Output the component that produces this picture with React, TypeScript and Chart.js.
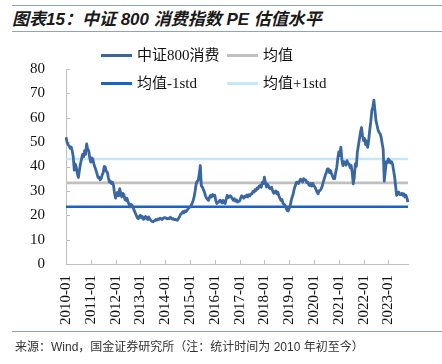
import React, { useEffect, useRef } from "react";
import { Chart, registerables } from "chart.js";

Chart.register(...registerables);

// ---- Data ----
const YEARS = [2010, 2011, 2012, 2013, 2014, 2015, 2016, 2017, 2018, 2019, 2020, 2021, 2022, 2023];
const MONTHS = ["01", "02", "03", "04", "05", "06", "07", "08", "09", "10", "11", "12"];
const DAYS = ["01", "16"]; // semi-monthly observations
const N_POINTS = 332; // 2010-01-01 .. 2023-10-16

const DATES: string[] = YEARS.flatMap((y) => MONTHS.flatMap((m) => DAYS.map((d) => `${y}-${m}-${d}`))).slice(0, N_POINTS);

const PE_2010 = [52, 50, 49, 48.5, 47.5, 48, 46.5, 44, 38.5, 41, 39.5, 37, 35.5, 38.5, 41, 43, 45, 44, 46.5, 45, 49.3, 47, 46.5, 43.5];
const PE_2011 = [41.8, 43.5, 43, 41, 39.7, 38.5, 37, 35.5, 35.6, 34.5, 35, 36.5, 37.5, 40, 39.7, 38, 37.7, 35.5, 33.6, 34, 33, 33.5, 32.2, 29];
const PE_2012 = [27, 28.5, 29.5, 28, 30.9, 29, 27.5, 29, 28.5, 26.5, 26.1, 27, 25.5, 24.5, 23.4, 24.5, 24, 23, 22, 21, 20, 19, 18.6, 19.5];
const PE_2013 = [20, 19, 19.5, 18.3, 18.6, 19.5, 19, 18.2, 19.3, 18.5, 18, 17.5, 17.3, 17.6, 17.8, 18.3, 18, 18.5, 18.3, 18.8, 18.6, 18.2, 18.8, 19];
const PE_2014 = [19, 18.7, 18.5, 18.8, 18.6, 19.2, 18.8, 18.4, 18.6, 18.2, 18.3, 18, 18, 18.8, 19.5, 20.5, 20.7, 21.5, 21, 21.8, 21.4, 22, 22.5, 23];
const PE_2015 = [23.4, 24, 24.8, 26, 27.5, 30, 32.9, 34, 34.3, 37, 40.4, 32, 31.6, 30.5, 29.5, 28, 27, 26.5, 26.1, 27.5, 28.2, 27.5, 28.5, 28];
const PE_2016 = [28.2, 26, 24.8, 25.5, 25.4, 26.2, 25.8, 25, 26.1, 25.2, 24.8, 26.5, 28.2, 27.2, 27.5, 28, 27.5, 26.8, 26.1, 26.8, 25.8, 26.3, 25.4, 25.8];
const PE_2017 = [25.8, 27, 28, 27.5, 27, 27.8, 27.5, 28.3, 27.5, 28.4, 28, 28.8, 28.8, 29.8, 29.5, 30.5, 30.2, 31.2, 31, 32, 32.2, 31.5, 33.5, 33];
const PE_2018 = [35.6, 33.5, 31.6, 32.8, 32, 31, 30.9, 31.5, 30, 29, 29.5, 30, 28.8, 29.5, 28, 27, 26.1, 26.5, 25, 24.5, 24.1, 23, 22, 21.8];
const PE_2019 = [22.7, 24, 26.1, 27.5, 29, 31, 32.2, 33.5, 33.6, 33, 34, 34.8, 34.3, 33.6, 35, 34.5, 34.5, 33.4, 33.6, 32.5, 32.2, 33, 32, 33];
const PE_2020 = [32, 31.6, 30.5, 29.5, 28.8, 30, 30.2, 30.9, 32, 33.6, 35, 36.5, 37.5, 39, 39, 37.5, 38.4, 37, 36, 35, 35, 37.5, 39.5, 43.1];
const PE_2021 = [46, 44.5, 47.9, 43, 40.4, 42, 41.5, 40.5, 42.4, 41.2, 41, 39.5, 40.4, 37.5, 32.9, 35.5, 41.1, 40, 46, 48.5, 51.3, 54, 56, 52.5];
const PE_2022 = [50.6, 51.5, 49, 50.5, 47.9, 51, 55, 58.5, 62.9, 64.5, 67.2, 63, 58.8, 57, 55, 54, 53.5, 52, 49.4, 47, 34, 38, 42, 41.5];
const PE_2023 = [43.1, 42.5, 41.5, 42, 41.1, 38.5, 36, 32, 28.2, 29, 29.5, 28.5, 28.5, 29, 28.2, 28.8, 27.5, 28.2, 27, 25.4];

const PE_VALUES = [
  ...PE_2010, ...PE_2011, ...PE_2012, ...PE_2013, ...PE_2014, ...PE_2015, ...PE_2016,
  ...PE_2017, ...PE_2018, ...PE_2019, ...PE_2020, ...PE_2021, ...PE_2022, ...PE_2023,
];

const MEAN = 33.3;
const MEAN_MINUS_STD = 23.5;
const MEAN_PLUS_STD = 43.1;

const SERIES_NAMES = ["中证800消费", "均值", "均值-1std", "均值+1std"];
const Y_TICKS = [0, 10, 20, 30, 40, 50, 60, 70, 80];

// ---- Styles ----
const C_SERIES = "#3a67a0";
const C_MEAN = "#c0c0c0";
const C_LOW = "#1565c8";
const C_HIGH = "#c4e8fb";
const C_AXIS = "#bfbfbf";
const SERIF = "'Times New Roman', 'Liberation Serif', 'Noto Sans CJK SC', serif";

const isYearStart = (d: string | undefined) => !!d && d.endsWith("-01-01");

const innerTicks = {
  id: "innerTicks",
  beforeDatasetsDraw(chart: any) {
    const { ctx, scales, chartArea } = chart;
    const x = scales.x;
    const y = scales.y;
    ctx.save();
    ctx.strokeStyle = C_AXIS;
    ctx.lineWidth = 1;
    ctx.beginPath();
    x.ticks.forEach((t: any, i: number) => {
      if (isYearStart(DATES[t.value])) {
        const px = Math.round(x.getPixelForTick(i)) + 0.5;
        ctx.moveTo(px, chartArea.bottom);
        ctx.lineTo(px, chartArea.bottom - 4);
      }
    });
    y.ticks.forEach((_t: any, i: number) => {
      const py = Math.round(y.getPixelForTick(i)) + 0.5;
      ctx.moveTo(chartArea.left, py);
      ctx.lineTo(chartArea.left + 4, py);
    });
    ctx.stroke();
    ctx.restore();
  },
};

function LegendItem({ x, y, color, text }: { x: number; y: number; color: string; text: string }) {
  return (
    <>
      <div style={{ position: "absolute", left: x, top: y - 1.5, width: 31, height: 3, background: color }} />
      <div
        style={{
          position: "absolute",
          left: x + 36,
          top: y - 11,
          height: 22,
          lineHeight: "22px",
          fontSize: 15,
          fontFamily: SERIF,
          color: "#111",
          whiteSpace: "nowrap",
        }}
      >
        {text}
      </div>
    </>
  );
}

export default function App() {
  const ref = useRef<HTMLCanvasElement | null>(null);

  useEffect(() => {
    if (!ref.current) return;
    const chart = new Chart(ref.current, {
      type: "line",
      data: {
        labels: DATES,
        datasets: [
          {
            label: SERIES_NAMES[0],
            data: PE_VALUES,
            borderColor: C_SERIES,
            borderWidth: 2.8,
            pointRadius: 0,
            tension: 0,
            borderJoinStyle: "round",
          },
          {
            label: SERIES_NAMES[1],
            data: DATES.map(() => MEAN),
            borderColor: C_MEAN,
            borderWidth: 2.6,
            pointRadius: 0,
          },
          {
            label: SERIES_NAMES[2],
            data: DATES.map(() => MEAN_MINUS_STD),
            borderColor: C_LOW,
            borderWidth: 2.6,
            pointRadius: 0,
          },
          {
            label: SERIES_NAMES[3],
            data: DATES.map(() => MEAN_PLUS_STD),
            borderColor: C_HIGH,
            borderWidth: 2.6,
            pointRadius: 0,
          },
        ],
      },
      options: {
        responsive: false,
        animation: false,
        devicePixelRatio: 1,
        layout: { padding: { left: 0, top: 69, right: 34, bottom: 0 } },
        plugins: {
          legend: { display: false },
          tooltip: { enabled: false },
          title: { display: false },
        },
        scales: {
          x: {
            type: "category",
            offset: false,
            border: { display: true, color: C_AXIS, width: 1 },
            grid: { display: true, drawOnChartArea: false, drawTicks: false },
            ticks: {
              autoSkip: false,
              maxRotation: 90,
              minRotation: 90,
              padding: 11,
              color: "#111",
              font: { family: SERIF, size: 15 },
              callback: (_v: any, i: number) => (isYearStart(DATES[i]) ? DATES[i].slice(0, 7) : null),
            },
            afterFit: (s: any) => {
              s.height = 100;
            },
          },
          y: {
            min: Y_TICKS[0],
            max: Y_TICKS[Y_TICKS.length - 1],
            border: { display: true, color: C_AXIS, width: 1 },
            grid: { display: true, drawOnChartArea: false, drawTicks: false },
            ticks: {
              stepSize: 10,
              padding: 21,
              color: "#111",
              font: { family: SERIF, size: 15 },
            },
            afterFit: (s: any) => {
              s.width = 66;
            },
          },
        },
      },
      plugins: [innerTicks],
    });
    return () => chart.destroy();
  }, []);

  return (
    <div style={{ position: "absolute", left: 0, top: 0, width: 442, height: 364, background: "#fff", overflow: "hidden" }}>
      <div style={{ position: "absolute", left: 12, right: 0, top: 5, height: 1, background: "#8ea4bb" }} />
      <div
        style={{
          position: "absolute",
          left: 12,
          top: 8,
          height: 23,
          lineHeight: "23px",
          fontSize: 17,
          fontWeight: "bold",
          fontStyle: "italic",
          fontFamily: "'Liberation Sans', Arial, 'Noto Sans CJK SC', sans-serif",
          color: "#1a1a1a",
          whiteSpace: "nowrap",
        }}
      >
        图表15：中证 800 消费指数 PE 估值水平
      </div>
      <div style={{ position: "absolute", left: 12, right: 0, top: 31, height: 1, background: "#8ea4bb" }} />
      <canvas ref={ref} width={442} height={364} style={{ position: "absolute", left: 0, top: 0, width: 442, height: 364 }} />
      <LegendItem x={101} y={55} color={C_SERIES} text={SERIES_NAMES[0]} />
      <LegendItem x={227} y={55} color={C_MEAN} text={SERIES_NAMES[1]} />
      <LegendItem x={101} y={83} color={C_LOW} text={SERIES_NAMES[2]} />
      <LegendItem x={227} y={83} color={C_HIGH} text={SERIES_NAMES[3]} />
      <div style={{ position: "absolute", left: 12, right: 0, top: 331, height: 1, background: "#8ea4bb" }} />
      <div
        style={{
          position: "absolute",
          left: 15,
          top: 339,
          height: 16,
          lineHeight: "16px",
          fontSize: 12,
          fontFamily: "'Liberation Sans', Arial, 'Noto Sans CJK SC', sans-serif",
          color: "#333",
          whiteSpace: "nowrap",
        }}
      >
        来源：Wind，国金证券研究所（注：统计时间为 2010 年初至今）
      </div>
    </div>
  );
}
